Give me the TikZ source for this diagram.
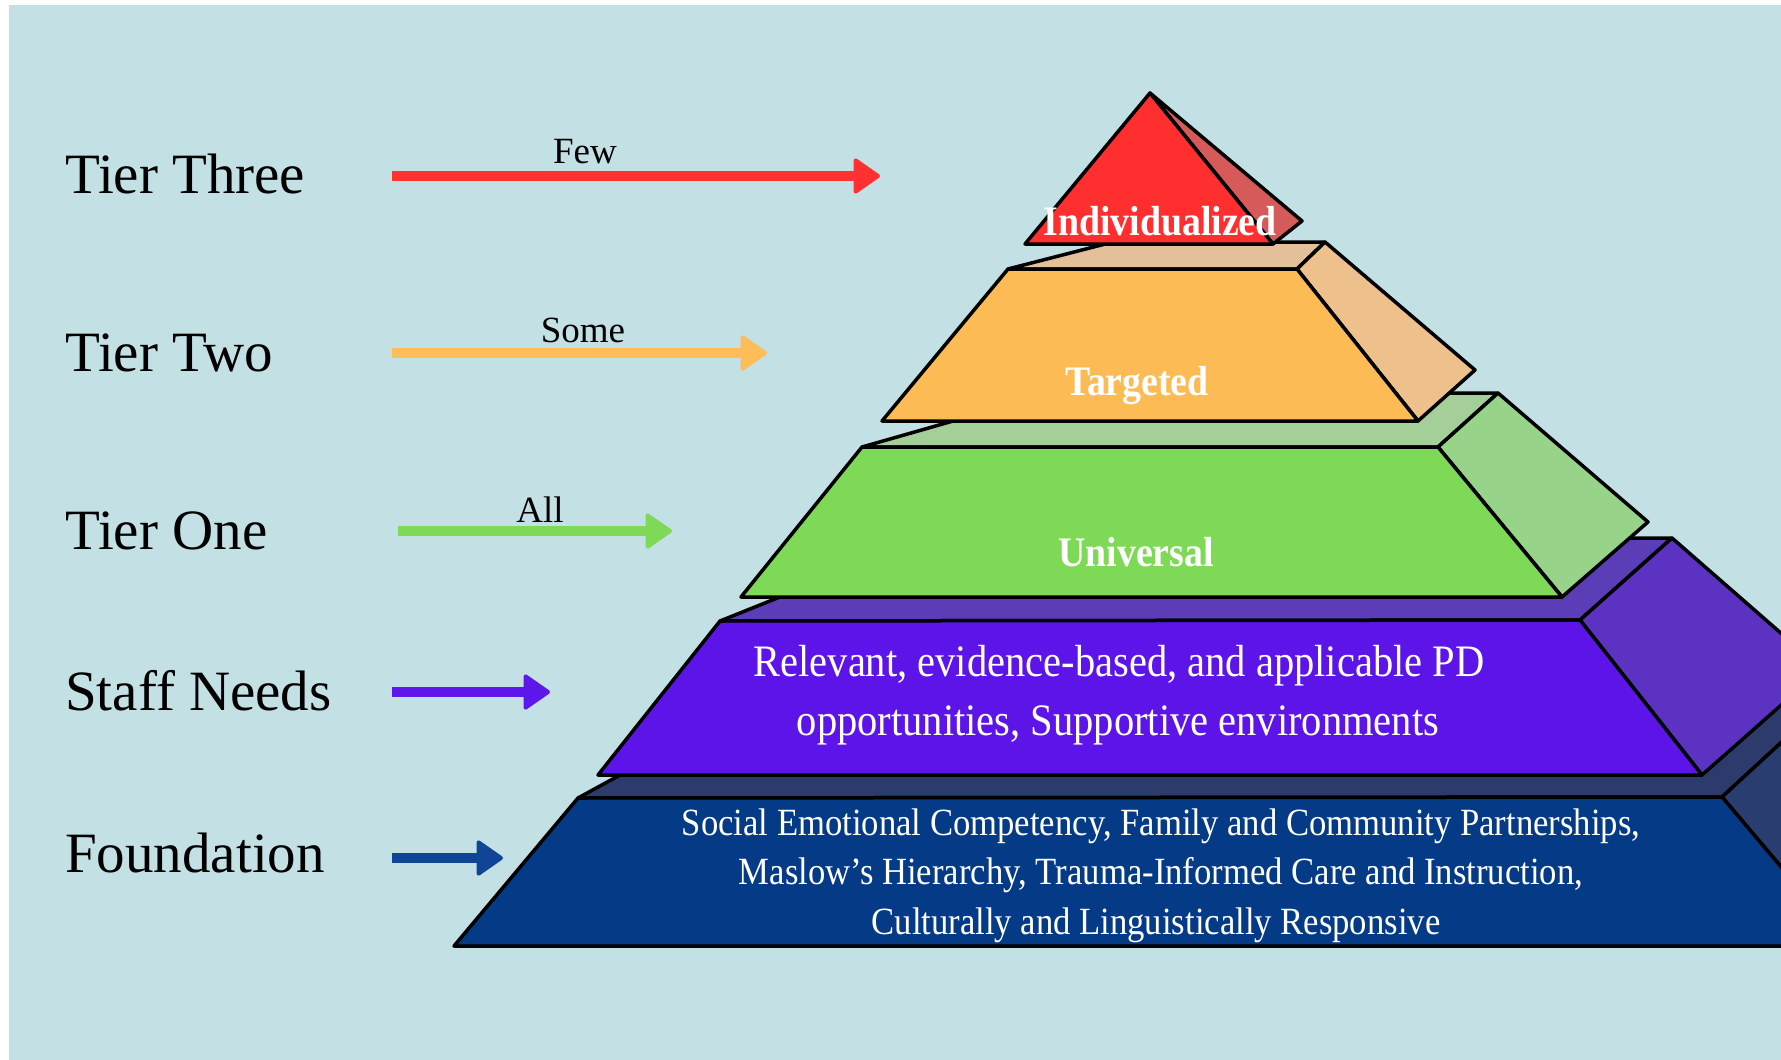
\documentclass[tikz,border=0pt]{standalone}
\usepackage{fontspec}
\setmainfont{Liberation Serif}
\newfontfamily\condfont[FakeStretch=0.9]{Liberation Serif}
\usetikzlibrary{arrows.meta}
\definecolor{bgc}{HTML}{C3E0E4}
\definecolor{redF}{HTML}{FF2F2F}
\definecolor{redS}{HTML}{D75A5A}
\definecolor{orgF}{HTML}{FDBB56}
\definecolor{orgT}{HTML}{E3C09A}
\definecolor{orgS}{HTML}{EEC08B}
\definecolor{grnF}{HTML}{7ED957}
\definecolor{grnT}{HTML}{A5CF98}
\definecolor{grnS}{HTML}{98D38A}
\definecolor{purF}{HTML}{5D14E9}
\definecolor{purT}{HTML}{5C3DB8}
\definecolor{purS}{HTML}{5B32C2}
\definecolor{navF}{HTML}{043A86}
\definecolor{navT}{HTML}{2C3B6B}
\definecolor{navS}{HTML}{2A3D70}
\definecolor{aRed}{HTML}{FF3131}
\definecolor{aOrg}{HTML}{FFBD59}
\definecolor{aGrn}{HTML}{7ED957}
\definecolor{aPur}{HTML}{5E17EB}
\definecolor{aNav}{HTML}{0F4496}
\begin{document}
\begin{tikzpicture}[x=1pt,y=-1pt,
  face/.style={draw=black,line width=3.5pt,line join=round},
  arr/.style={line width=10pt,-{Triangle[length=28pt,width=38pt,round,line width=4pt]}},
  tierlbl/.style={anchor=base west,inner sep=0pt,font=\fontsize{57}{60}\selectfont},
  smalllbl/.style={anchor=base,inner sep=0pt,font=\fontsize{37}{40}\selectfont},
  wbold/.style={anchor=base,inner sep=0pt,text=white,font=\condfont\bfseries\fontsize{42}{46}\selectfont},
  wpur/.style={anchor=base,inner sep=0pt,text=white,font=\condfont\fontsize{45}{50}\selectfont},
  wnav/.style={anchor=base,inner sep=0pt,text=white,font=\condfont\fontsize{38.5}{40}\selectfont}
]
\useasboundingbox (0,0) rectangle (1781,1060);
\clip (0,0) rectangle (1781,1060);
\fill[white] (0,0) rectangle (1781,1060);
\fill[bgc] (9,5) rectangle (1781,1060);

% Foundation
\filldraw[fill=navT,face] (578,798) -- (748,705) -- (1822,705) -- (1722,797) -- cycle;
\filldraw[fill=navS,face] (1722,797) -- (1822,705) -- (1900,790) -- (1848,946) -- cycle;
\filldraw[fill=navF,face] (578,798) -- (1722,797) -- (1848,946) -- (454,946) -- cycle;

% Staff needs
\filldraw[fill=purT,face] (720,621) -- (927,538) -- (1672,538) -- (1580,620) -- cycle;
\filldraw[fill=purS,face] (1580,620) -- (1672,538) -- (1822,669) -- (1702,775) -- cycle;
\filldraw[fill=purF,face] (720,621) -- (1580,620) -- (1702,775) -- (598,775) -- cycle;

% Tier one
\filldraw[fill=grnT,face] (862,447) -- (1051,393) -- (1498,393) -- (1438,447) -- cycle;
\filldraw[fill=grnS,face] (1438,447) -- (1498,393) -- (1648,522) -- (1562,597) -- cycle;
\filldraw[fill=grnF,face] (862,447) -- (1438,447) -- (1562,597) -- (741,597) -- cycle;

% Tier two
\filldraw[fill=orgT,face] (1008,269) -- (1113,242) -- (1325,242) -- (1297,269) -- cycle;
\filldraw[fill=orgS,face] (1297,269) -- (1325,242) -- (1475,370) -- (1418,421) -- cycle;
\filldraw[fill=orgF,face] (1008,269) -- (1297,269) -- (1418,421) -- (882,421) -- cycle;

% Tier three
\filldraw[fill=redS,face] (1150,93) -- (1302,221) -- (1273,244) -- cycle;
\filldraw[fill=redF,face] (1150,93) -- (1273,244) -- (1025,244) -- cycle;

% pyramid labels
\node[wbold] (lind) at (1160,235) {Individualized};
\node[wbold] (ltar) at (1137,395) {Targeted};
\node[wbold] (luni) at (1136,566) {Universal};
\node[wpur] (lpur1) at (1119,676) {Relevant, evidence-based, and applicable PD};
\node[wpur] (lpur2) at (1118,735) {opportunities, Supportive environments};
\node[wnav] (lnav1) at (1161,835) {Social Emotional Competency, Family and Community Partnerships,};
\node[wnav] (lnav2) at (1161,884) {Maslow’s Hierarchy, Trauma-Informed Care and Instruction,};
\node[wnav] (lnav3) at (1156,934) {Culturally and Linguistically Responsive};

% left labels
\node[tierlbl] (t3) at (65,193) {Tier Three};
\node[tierlbl] (t2) at (65,371) {Tier Two};
\node[tierlbl] (t1) at (65,549) {Tier One};
\node[tierlbl] (sn) at (65,710) {Staff Needs};
\node[tierlbl] (fd) at (65,872) {Foundation};

% arrows
\coordinate (a3s) at (392,176); \coordinate (a3e) at (880,176);
\coordinate (a2s) at (392,353); \coordinate (a2e) at (767,353);
\coordinate (a1s) at (398,531); \coordinate (a1e) at (672,531);
\coordinate (asns) at (392,692); \coordinate (asne) at (550,692);
\coordinate (afds) at (392,858); \coordinate (afde) at (503,858);
\draw[arr,aRed] (a3s) -- (a3e);
\draw[arr,aOrg] (a2s) -- (a2e);
\draw[arr,aGrn] (a1s) -- (a1e);
\draw[arr,aPur] (asns) -- (asne);
\draw[arr,aNav] (afds) -- (afde);

\node[smalllbl] (few) at (585,163) {Few};
\node[smalllbl] (some) at (583,342) {Some};
\node[smalllbl] (all) at (540,522) {All};
\end{tikzpicture}
\end{document}
